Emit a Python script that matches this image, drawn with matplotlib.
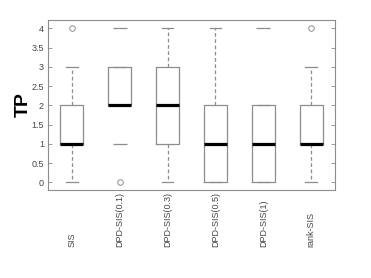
import matplotlib
matplotlib.use("Agg")
import matplotlib.pyplot as plt

plt.rcParams['font.family'] = ['Liberation Sans', 'DejaVu Sans']

# data
methods = ['SIS', 'DPD-SIS(0.1)', 'DPD-SIS(0.3)', 'DPD-SIS(0.5)', 'DPD-SIS(1)', 'rank-SIS']
q1 = [1, 2, 1, 0, 0, 1]
med = [1, 2, 2, 1, 1, 1]
q3 = [2, 3, 3, 2, 2, 2]
whislo = [0, 2, 0, 0, 0, 0]
whishi = [3, 3, 4, 4, 2, 3]
outliers = [[4], [0], [], [], [], [4]]
# lone values drawn as short dashes (no whisker line)
dash_pos = [2, 2, 5]
dash_val = [4, 1, 4]

yticks = [0, 0.5, 1, 1.5, 2, 2.5, 3, 3.5, 4]
ytick_labels = ['0', '0.5', '1', '1.5', '2', '2.5', '3', '3.5', '4']

stats = []
for i, m in enumerate(methods):
    stats.append({'label': m, 'q1': q1[i], 'med': med[i], 'q3': q3[i],
                  'whislo': whislo[i], 'whishi': whishi[i], 'fliers': outliers[i]})

fig = plt.figure(figsize=(3.71, 2.78), dpi=100)
ax = fig.add_axes([48 / 371, 1 - 190 / 278, 287 / 371, 170 / 278])

grey = '#8c8c8c'
ax.bxp(stats, positions=range(1, 7), widths=0.48, showfliers=True,
       boxprops=dict(color=grey, linewidth=0.9),
       whiskerprops=dict(color=grey, linewidth=0.9, linestyle=(0, (3, 2))),
       capprops=dict(color=grey, linewidth=0.9),
       medianprops=dict(color='black', linewidth=2.3, solid_capstyle='butt'),
       flierprops=dict(marker='o', markerfacecolor='none', markeredgecolor=grey,
                       markersize=4, markeredgewidth=0.7))
ax.plot(dash_pos, dash_val, linestyle='none', marker='_', markersize=9.5,
        markeredgewidth=0.9, color=grey)

ax.set_xlim(0.5, 6.5)
ax.set_ylim(-0.195, 4.22)
ax.set_yticks(yticks)
ax.set_yticklabels(ytick_labels, fontsize=6.5, color='#444444')
ax.set_xticks(range(1, 7))
ax.set_xticklabels(methods, rotation=90, fontsize=6.5, color='#444444',
                   va='bottom', ha='center')
ax.tick_params(axis='x', length=0, pad=41)
ax.tick_params(axis='y', direction='in', length=3, width=0.6, color=grey, right=True, pad=3)
ax.set_ylabel('TP', fontsize=14, fontweight='bold', labelpad=0)
for s in ax.spines.values():
    s.set_color(grey)
    s.set_linewidth(0.8)

plt.savefig('out.png', dpi=100)
